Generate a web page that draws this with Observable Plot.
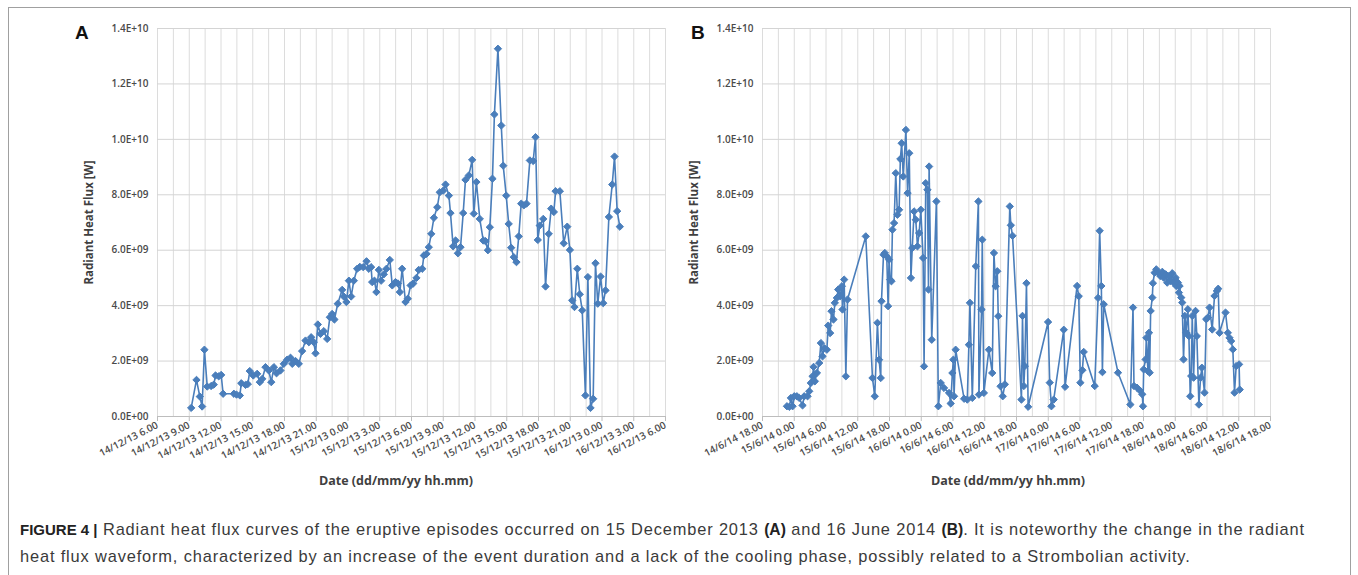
<!DOCTYPE html>
<html>
<head>
<meta charset="utf-8">
<script src="https://cdn.jsdelivr.net/npm/d3@7"></script>
<script src="https://cdn.jsdelivr.net/npm/@observablehq/plot@0.6"></script>
<style>
  html, body { margin: 0; padding: 0; background: #fff; }
  body { width: 1358px; height: 575px; overflow: hidden; position: relative; font-family: "Liberation Sans", Arial, sans-serif; }
  #frame { position: absolute; left: 8px; top: 7px; width: 1343px; height: 640px; border: 1px solid #a0a0a0; box-sizing: border-box; }
  .chart { position: absolute; top: 0; }
  #chartA { left: 0; }
  #chartB { left: 605px; }
  .panel { position: absolute; font-family: "Liberation Sans", Arial, sans-serif; font-weight: bold; font-size: 19px; color: #111; }
  .xtitle { position: absolute; top: 472px; width: 300px; margin-left: -150px; text-align: center; font-family: "Open Sans", sans-serif; font-weight: 700; font-size: 12.5px; color: #404040; white-space: nowrap; }
  #caption { position: absolute; left: 20px; top: 516px; width: 1340px; font-size: 16.4px; letter-spacing: 0.85px; line-height: 26px; color: #3a3a3a; white-space: nowrap; }
  #caption b { color: #222; font-size: 15px; letter-spacing: 0; }
  #caption b.ab { font-size: 15.6px; }
  svg g[aria-label="x-axis tick label"] text, svg g[aria-label="y-axis tick label"] text { font-weight: 600; fill: #4a4a4a; }
  svg g[aria-label="y-axis label"] text { font-weight: 700; font-size: 11.5px; fill: #404040; }
</style>
</head>
<body>
<div id="frame"></div>
<div id="chartA" class="chart"></div>
<div id="chartB" class="chart"></div>
<div class="panel" style="left:75px;top:22px">A</div>
<div class="panel" style="left:691px;top:22px">B</div>
<div class="xtitle" style="left:396px">Date (dd/mm/yy hh.mm)</div>
<div class="xtitle" style="left:1008px">Date (dd/mm/yy hh.mm)</div>
<div id="caption"><b>FIGURE 4 |</b> Radiant heat flux curves of the eruptive episodes occurred on 15 December 2013 <b class="ab">(A)</b> and 16 June 2014 <b class="ab">(B)</b>. It is noteworthy the change in the radiant<br>heat flux waveform, characterized by an increase of the event duration and a lack of the cooling phase, possibly related to a Strombolian activity.</div>
<script>
// ---- Panel A: 15 December 2013 episode (times dd/mm/yy h.mm, radiant heat flux in 1e9 W)
const timesA = ["14/12/13 9.11","14/12/13 9.41","14/12/13 10.00","14/12/13 10.13","14/12/13 10.26","14/12/13 10.42","14/12/13 11.04","14/12/13 11.19","14/12/13 11.29","14/12/13 11.47","14/12/13 12.01","14/12/13 12.12","14/12/13 13.13","14/12/13 13.28","14/12/13 13.47","14/12/13 13.55","14/12/13 14.19","14/12/13 14.32","14/12/13 14.43","14/12/13 15.03","14/12/13 15.25","14/12/13 15.40","14/12/13 15.54","14/12/13 16.12","14/12/13 16.31","14/12/13 16.45","14/12/13 17.00","14/12/13 17.15","14/12/13 17.37","14/12/13 17.56","14/12/13 18.15","14/12/13 18.34","14/12/13 18.44","14/12/13 19.03","14/12/13 19.21","14/12/13 19.40","14/12/13 19.59","14/12/13 20.18","14/12/13 20.31","14/12/13 20.46","14/12/13 20.56","14/12/13 21.09","14/12/13 21.24","14/12/13 21.43","14/12/13 22.02","14/12/13 22.17","14/12/13 22.30","14/12/13 22.43","14/12/13 23.02","14/12/13 23.27","14/12/13 23.36","14/12/13 23.51","15/12/13 0.05","15/12/13 0.18","15/12/13 0.33","15/12/13 0.52","15/12/13 1.07","15/12/13 1.26","15/12/13 1.45","15/12/13 1.58","15/12/13 2.11","15/12/13 2.17","15/12/13 2.30","15/12/13 2.41","15/12/13 2.55","15/12/13 3.08","15/12/13 3.23","15/12/13 3.38","15/12/13 3.57","15/12/13 4.11","15/12/13 4.29","15/12/13 4.43","15/12/13 4.54","15/12/13 5.07","15/12/13 5.26","15/12/13 5.39","15/12/13 5.55","15/12/13 6.10","15/12/13 6.28","15/12/13 6.41","15/12/13 7.01","15/12/13 7.10","15/12/13 7.25","15/12/13 7.38","15/12/13 7.52","15/12/13 8.07","15/12/13 8.26","15/12/13 8.40","15/12/13 9.00","15/12/13 9.13","15/12/13 9.32","15/12/13 9.41","15/12/13 9.56","15/12/13 10.10","15/12/13 10.23","15/12/13 10.38","15/12/13 10.53","15/12/13 11.06","15/12/13 11.25","15/12/13 11.44","15/12/13 11.53","15/12/13 12.08","15/12/13 12.27","15/12/13 12.47","15/12/13 12.59","15/12/13 13.13","15/12/13 13.24","15/12/13 13.39","15/12/13 13.50","15/12/13 14.10","15/12/13 14.29","15/12/13 14.40","15/12/13 14.57","15/12/13 15.11","15/12/13 15.25","15/12/13 15.40","15/12/13 15.55","15/12/13 16.08","15/12/13 16.22","15/12/13 16.37","15/12/13 16.52","15/12/13 17.11","15/12/13 17.30","15/12/13 17.43","15/12/13 17.56","15/12/13 18.07","15/12/13 18.27","15/12/13 18.40","15/12/13 18.58","15/12/13 19.12","15/12/13 19.27","15/12/13 19.37","15/12/13 20.01","15/12/13 20.23","15/12/13 20.43","15/12/13 20.58","15/12/13 21.11","15/12/13 21.24","15/12/13 21.40","15/12/13 21.54","15/12/13 22.08","15/12/13 22.26","15/12/13 22.40","15/12/13 22.55","15/12/13 23.10","15/12/13 23.23","15/12/13 23.36","15/12/13 23.52","16/12/13 0.07","16/12/13 0.20","16/12/13 0.39","16/12/13 0.58","16/12/13 1.11","16/12/13 1.26","16/12/13 1.41"];
const fluxA = [0.31,1.32,0.72,0.36,2.41,1.08,1.10,1.15,1.48,1.45,1.50,0.82,0.82,0.79,0.76,1.20,1.14,1.17,1.64,1.48,1.54,1.24,1.36,1.78,1.66,1.24,1.78,1.56,1.66,1.90,2.05,2.12,1.90,2.00,1.90,2.36,2.74,2.68,2.86,2.68,2.28,3.32,2.98,3.08,2.80,3.58,3.70,3.50,4.07,4.57,4.33,4.13,4.90,4.33,4.90,5.33,5.40,5.39,5.60,5.33,5.39,4.85,4.90,4.49,5.29,4.90,5.13,5.33,5.65,4.73,4.85,4.80,4.49,5.33,4.13,4.25,4.73,4.80,5.00,5.29,5.33,5.81,5.87,6.11,6.59,7.17,7.55,8.09,8.15,8.37,7.97,7.34,6.14,6.35,5.89,6.11,7.34,8.54,8.70,9.26,7.32,8.46,7.13,6.35,6.33,6.00,6.83,8.58,10.90,13.27,10.50,9.05,7.97,6.95,6.09,5.75,5.57,6.50,7.68,7.62,7.68,9.24,9.22,10.08,6.37,6.89,7.13,4.69,6.59,7.50,7.38,8.13,8.13,6.25,6.85,6.01,4.19,3.95,5.33,4.41,3.83,0.76,5.03,0.31,0.64,5.53,4.07,5.05,4.09,4.55,7.20,8.37,9.38,7.41,6.85];

// ---- Panel B: 16 June 2014 episode
const timesB = ["14/6/14 22.37","14/6/14 23.04","14/6/14 23.22","14/6/14 23.41","15/6/14 0.00","15/6/14 0.30","15/6/14 0.56","15/6/14 1.34","15/6/14 1.53","15/6/14 2.31","15/6/14 2.50","15/6/14 3.08","15/6/14 3.28","15/6/14 3.39","15/6/14 3.54","15/6/14 4.17","15/6/14 4.43","15/6/14 5.02","15/6/14 5.21","15/6/14 5.40","15/6/14 6.10","15/6/14 6.25","15/6/14 6.47","15/6/14 7.02","15/6/14 7.25","15/6/14 7.40","15/6/14 8.03","15/6/14 8.18","15/6/14 8.41","15/6/14 9.00","15/6/14 9.07","15/6/14 9.26","15/6/14 9.45","15/6/14 10.04","15/6/14 13.31","15/6/14 14.47","15/6/14 15.13","15/6/14 15.43","15/6/14 16.02","15/6/14 16.21","15/6/14 16.29","15/6/14 16.52","15/6/14 17.07","15/6/14 17.29","15/6/14 17.44","15/6/14 17.55","15/6/14 18.07","15/6/14 18.22","15/6/14 18.33","15/6/14 18.52","15/6/14 19.11","15/6/14 19.30","15/6/14 19.49","15/6/14 20.03","15/6/14 20.18","15/6/14 20.36","15/6/14 21.06","15/6/14 21.25","15/6/14 21.44","15/6/14 22.03","15/6/14 22.18","15/6/14 22.39","15/6/14 22.58","15/6/14 23.17","15/6/14 23.36","15/6/14 23.55","16/6/14 0.21","16/6/14 0.32","16/6/14 0.51","16/6/14 1.10","16/6/14 1.22","16/6/14 1.29","16/6/14 1.59","16/6/14 2.52","16/6/14 3.14","16/6/14 3.41","16/6/14 4.18","16/6/14 5.15","16/6/14 5.34","16/6/14 5.53","16/6/14 6.04","16/6/14 6.12","16/6/14 6.30","16/6/14 8.06","16/6/14 8.42","16/6/14 9.00","16/6/14 9.12","16/6/14 9.39","16/6/14 10.18","16/6/14 10.48","16/6/14 10.54","16/6/14 11.24","16/6/14 11.32","16/6/14 11.50","16/6/14 12.47","16/6/14 13.25","16/6/14 13.44","16/6/14 14.03","16/6/14 14.22","16/6/14 14.33","16/6/14 14.59","16/6/14 15.24","16/6/14 15.48","16/6/14 16.44","16/6/14 16.56","16/6/14 17.15","16/6/14 18.56","16/6/14 19.08","16/6/14 19.23","16/6/14 19.34","16/6/14 19.53","16/6/14 20.12","16/6/14 23.58","17/6/14 0.17","17/6/14 0.36","17/6/14 1.02","17/6/14 2.56","17/6/14 3.11","17/6/14 5.27","17/6/14 5.46","17/6/14 6.04","17/6/14 6.27","17/6/14 6.42","17/6/14 8.47","17/6/14 9.25","17/6/14 9.43","17/6/14 10.02","17/6/14 10.14","17/6/14 10.29","17/6/14 13.11","17/6/14 15.31","17/6/14 16.01","17/6/14 16.12","17/6/14 16.46","17/6/14 17.24","17/6/14 17.46","17/6/14 17.54","17/6/14 18.02","17/6/14 18.24","17/6/14 18.32","17/6/14 18.50","17/6/14 19.02","17/6/14 19.10","17/6/14 19.21","17/6/14 19.40","17/6/14 19.47","17/6/14 20.06","17/6/14 20.25","17/6/14 20.55","17/6/14 21.10","17/6/14 21.33","17/6/14 21.48","17/6/14 22.11","17/6/14 22.29","17/6/14 22.49","17/6/14 23.04","17/6/14 23.26","17/6/14 23.41","18/6/14 0.04","18/6/14 0.11","18/6/14 0.30","18/6/14 0.41","18/6/14 0.49","18/6/14 1.08","18/6/14 1.19","18/6/14 1.34","18/6/14 1.49","18/6/14 2.05","18/6/14 2.23","18/6/14 2.35","18/6/14 2.50","18/6/14 3.01","18/6/14 3.13","18/6/14 3.28","18/6/14 3.50","18/6/14 4.05","18/6/14 4.28","18/6/14 4.47","18/6/14 5.02","18/6/14 5.32","18/6/14 5.51","18/6/14 6.10","18/6/14 6.29","18/6/14 6.59","18/6/14 7.25","18/6/14 7.52","18/6/14 8.07","18/6/14 8.22","18/6/14 9.30","18/6/14 9.56","18/6/14 10.15","18/6/14 10.34","18/6/14 10.53","18/6/14 11.12","18/6/14 11.31","18/6/14 12.04","18/6/14 12.11"];
const fluxB = [0.37,0.35,0.67,0.37,0.73,0.73,0.67,0.40,0.73,0.73,0.91,1.21,1.45,1.79,1.27,1.57,1.93,2.65,2.17,2.47,2.41,3.28,3.01,3.80,3.50,4.10,4.28,4.58,4.34,4.70,3.86,4.94,1.45,4.22,6.50,1.39,0.73,3.38,2.05,1.39,4.16,5.84,5.90,5.78,3.98,5.66,4.94,4.88,6.74,6.98,8.78,7.28,7.46,9.29,9.86,8.66,10.34,8.06,9.50,5.00,6.08,7.40,7.10,6.14,6.62,7.46,5.72,1.81,8.42,8.18,4.58,9.02,2.77,7.76,0.37,1.21,1.03,0.85,0.47,1.57,2.05,0.73,2.41,0.64,0.61,2.59,4.10,0.67,5.42,7.76,0.79,3.86,6.38,0.85,2.41,1.57,5.90,4.70,5.24,3.62,1.09,0.73,1.16,7.58,6.90,6.52,0.61,3.63,1.10,1.82,4.81,0.35,3.41,1.22,0.37,0.61,3.13,1.07,4.71,4.34,1.22,1.67,2.33,1.10,4.28,6.70,4.71,1.60,4.05,1.58,0.43,3.93,1.10,1.04,0.92,0.80,0.37,1.70,2.06,2.84,1.64,3.02,1.58,3.81,4.29,4.81,5.19,5.31,5.17,5.07,5.22,5.01,5.13,4.83,5.07,4.89,5.17,4.83,5.01,4.71,4.83,4.47,4.71,4.29,4.11,2.06,3.63,3.02,3.87,2.90,0.73,1.46,3.63,1.40,3.81,2.90,0.43,1.40,1.76,0.86,3.51,3.57,3.93,3.14,4.35,4.53,4.61,3.02,3.75,3.02,2.84,2.72,2.42,0.86,1.82,1.88,0.97];

// ---- Axis settings
const domainA = ["14/12/13 6.00", "16/12/13 6.00"];
const domainB = ["14/6/14 18.00", "18/6/14 18.00"];
const yTicks = [0, 2e9, 4e9, 6e9, 8e9, 1e10, 1.2e10, 1.4e10];
const yTitle = "Radiant Heat Flux [W]";

const parse = d3.utcParse("%d/%m/%y %H.%M");
const yFmt = d => { const [m, e] = d.toExponential(1).split("e"); return m + "E" + e[0] + e.slice(1).padStart(2, "0"); };
const BLUE = "#4a7ebb";

function panel(times, flux, domain, tickHours, gridMinutes, fmt) {
  const data = times.map((t, i) => ({ t: parse(t), v: flux[i] * 1e9 }));
  const [x0, x1] = domain.map(parse);
  const xTicks = d3.utcHour.every(tickHours).range(x0, new Date(+x1 + 1));
  const grid = d3.utcMinute.every(30).range(x0, new Date(+x1 + 1)).filter((d, i) => i % (gridMinutes / 30) === 0);
  return Plot.plot({
    width: 680, height: 500,
    marginLeft: 157, marginRight: 15, marginTop: 28, marginBottom: 84,
    style: { fontFamily: "'Open Sans', sans-serif", fontSize: "10px", color: "#4a4a4a", background: "transparent", overflow: "visible" },
    x: { type: "utc", domain: [x0, x1] },
    y: { domain: [0, 1.4e10] },
    marks: [
      Plot.ruleX(grid, { stroke: "#dcdcdc", strokeWidth: 1 }),
      Plot.ruleY(yTicks, { stroke: "#d4d4d4", strokeWidth: 1 }),
      Plot.ruleY([0], { stroke: "#bdbdbd", strokeWidth: 1 }),
      Plot.axisX({ ticks: xTicks, tickFormat: d3.utcFormat(fmt), tickRotate: -27, tickSize: 5, tickPadding: 3, stroke: "#bdbdbd", label: null }),
      Plot.axisY({ ticks: yTicks, tickFormat: yFmt, tickSize: 0, tickPadding: 9,
                   label: yTitle, labelAnchor: "center", labelOffset: 73, labelArrow: "none" }),
      Plot.line(data, { x: "t", y: "v", stroke: BLUE, strokeWidth: 1.6 }),
      Plot.dot(data, { x: "t", y: "v", symbol: "diamond2", r: 3.3, fill: BLUE, stroke: BLUE, strokeWidth: 1 })
    ]
  });
}

document.getElementById("chartA").append(panel(timesA, fluxA, domainA, 3, 90, "%d/%m/%y %-H.%M"));
document.getElementById("chartB").append(panel(timesB, fluxB, domainB, 6, 180, "%-d/%-m/%y %-H.%M"));
</script>
</body>
</html>
